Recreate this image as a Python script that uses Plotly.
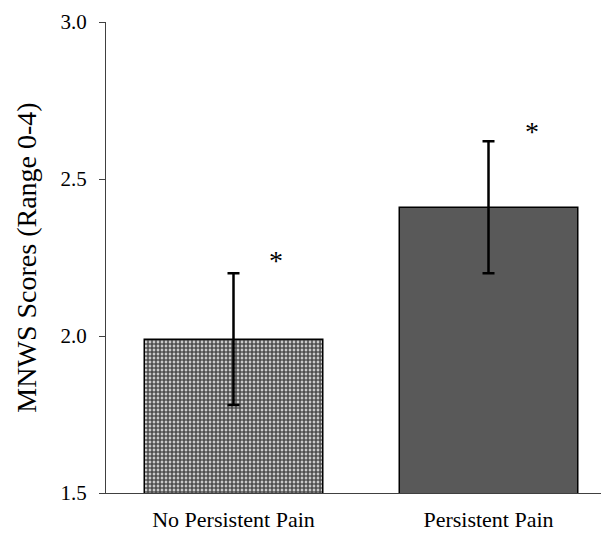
import plotly.graph_objects as go

categories = ["No Persistent Pain", "Persistent Pain"]
means = [1.99, 2.41]
errors = [0.21, 0.21]
star_x = [0.165, 1.17]
star_y = [2.24, 2.65]
star_text = ["*", "*"]
y_ticks = [1.5, 2.0, 2.5, 3.0]
y_ticktext = ["1.5", "2.0", "2.5", "3.0"]

SERIF = "Liberation Serif, Times New Roman, DejaVu Serif, serif"

fig = go.Figure()
fig.add_trace(go.Bar(
    x=[0], y=[means[0]], width=0.7,
    marker=dict(
        color="white",
        line=dict(color="black", width=1.5),
        pattern=dict(shape=".", fgcolor="#505050", bgcolor="white",
                     size=4, solidity=0.75, fillmode="replace"),
    ),
    error_y=dict(type="data", array=[errors[0]], visible=True, color="black",
                 thickness=2.5, width=6),
    showlegend=False,
))
fig.add_trace(go.Bar(
    x=[1], y=[means[1]], width=0.7,
    marker=dict(color="#595959", line=dict(color="black", width=1.5)),
    error_y=dict(type="data", array=[errors[1]], visible=True, color="black",
                 thickness=2.5, width=6),
    showlegend=False,
))

for xs, ys, t in zip(star_x, star_y, star_text):
    fig.add_annotation(x=xs, y=ys, text=t, showarrow=False, xref="x", yref="y",
                       font=dict(family=SERIF, size=28, color="black"))

fig.update_layout(
    width=601, height=525, barmode="overlay",
    margin=dict(l=98, r=0, t=14, b=40),
    plot_bgcolor="white", paper_bgcolor="white",
    font=dict(family=SERIF, size=21, color="black"),
    xaxis=dict(range=[-0.5, 1.4725], tickvals=[0, 1], ticktext=categories,
               showline=True, linecolor="#404040", linewidth=1.2,
               ticks="", showgrid=False, zeroline=False, fixedrange=True,
               automargin=False, ticklabelstandoff=6, tickfont=dict(size=22)),
    yaxis=dict(range=[1.5, 3.0], tickvals=y_ticks, ticktext=y_ticktext,
               showline=True, linecolor="#404040", linewidth=1.2,
               ticks="outside", ticklen=6, tickcolor="#404040",
               showgrid=False, zeroline=False, automargin=False,
               ticklabelstandoff=8, tickfont=dict(size=21),
               title=dict(text="MNWS Scores (Range 0-4)",
                          font=dict(family=SERIF, size=28), standoff=15)),
)

fig.write_html("out.html")
